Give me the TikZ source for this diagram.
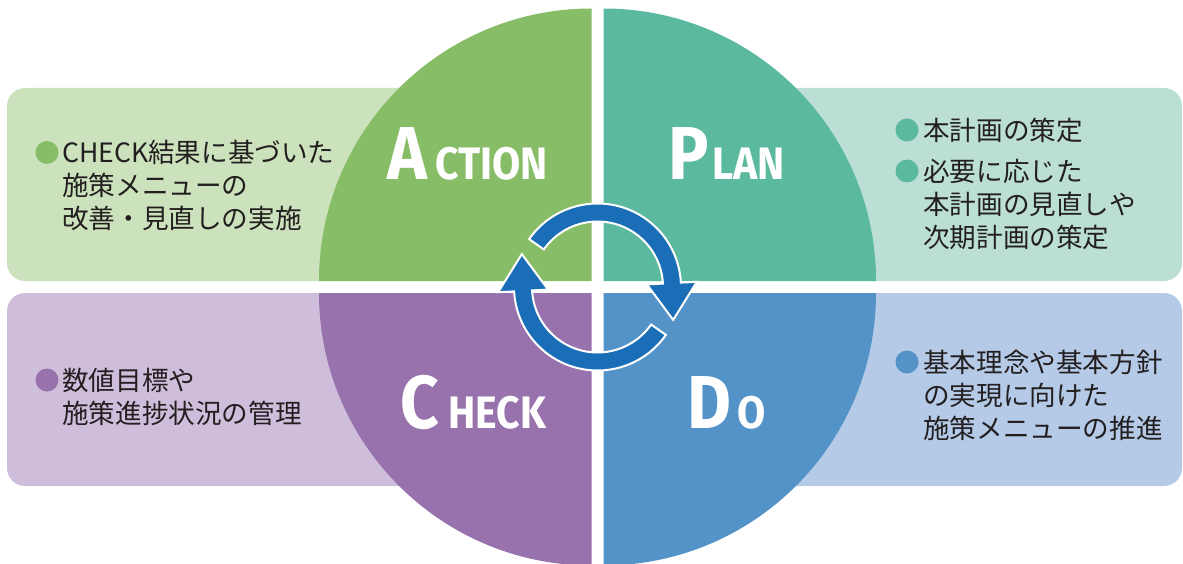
\documentclass[tikz,border=0pt]{standalone}
\usepackage{fontspec}
\newfontfamily\jp{Noto Sans CJK JP}
\newfontfamily\labfont[FakeStretch=0.9]{Fira Sans}
\definecolor{actg}{HTML}{88BD67}
\definecolor{actl}{HTML}{CCE2BC}
\definecolor{plang}{HTML}{5BB9A0}
\definecolor{planl}{HTML}{BCDFD5}
\definecolor{chkg}{HTML}{9872AD}
\definecolor{chkl}{HTML}{CFBEDB}
\definecolor{dog}{HTML}{5493C7}
\definecolor{dol}{HTML}{B5CAE7}
\definecolor{arrowblue}{HTML}{1A6DB7}
\definecolor{txt}{HTML}{231F20}
\tikzset{
  panel/.style={rounded corners=18pt},
  jptext/.style={anchor=base west, inner sep=0pt, text=txt, font=\jp\fontsize{26.6}{27}\selectfont},
  biglab/.style={anchor=base west, inner sep=0pt, text=white, font=\labfont\bfseries\fontsize{75}{75}\selectfont},
  smlab/.style={anchor=base west, inner sep=0pt, text=white, font=\labfont\bfseries\fontsize{45.5}{46}\selectfont},
  cycarrow/.style={fill=arrowblue, draw=white, line width=2pt, line join=miter},
}
\begin{document}
\begin{tikzpicture}[x=1pt,y=-1pt]
\useasboundingbox (0,0) rectangle (1183,564);
% background panels
\fill[actl, panel] (7,88) rectangle (560,281);
\fill[planl, panel] (635,88) rectangle (1182,281);
\fill[chkl, panel] (7,293) rectangle (560,486);
\fill[dol, panel] (635,293) rectangle (1182,486);
% quadrants
\fill[actg] (591.5,281) -- (319,281) arc[start angle=180, end angle=270, radius=272.5] -- cycle;
\fill[plang] (603.5,281) -- (603.5,8.5) arc[start angle=270, end angle=360, radius=272.5] -- cycle;
\fill[chkg] (591.5,293) -- (319,293) arc[start angle=180, end angle=90, radius=272.5] -- cycle;
\fill[dog] (603.5,293) -- (876,293) arc[start angle=0, end angle=90, radius=272.5] -- cycle;
% cycle arrows
\begin{scope}[shift={(597.5,287)}]
\filldraw[cycarrow] (215:83.5) arc[start angle=215, end angle=357, radius=83.5] -- (357:99.5) -- (23.5:82.5) -- (357:49.5) -- (357:65.5) arc[start angle=357, end angle=215, radius=65.5] -- cycle;
\filldraw[cycarrow] (35:83.5) arc[start angle=35, end angle=177, radius=83.5] -- (177:99.5) -- (203.5:82.5) -- (177:49.5) -- (177:65.5) arc[start angle=177, end angle=35, radius=65.5] -- cycle;
\end{scope}
% big labels
\node[biglab] (aBig) at (387,180) {A};
\node[smlab] (aRest) at (435,180) {CTION};
\node[biglab] (pBig) at (668,180) {P};
\node[smlab] (pRest) at (712,180) {LAN};
\node[biglab] (cBig) at (400,428) {C};
\node[smlab] (cRest) at (448,428) {HECK};
\node[biglab] (dBig) at (687,428) {D};
\node[smlab] (dRest) at (737,428) {O};
% bullets
\fill[actg] (47,152.5) circle (11.5);
\fill[plang] (907,130) circle (11.5);
\fill[plang] (907,171) circle (11.5);
\fill[chkg] (47,380) circle (11.5);
\fill[dog] (907,362) circle (11.5);
% texts
\node[jptext] (a1) at (62,162.5) {CHECK結果に基づいた};
\node[jptext] (a2) at (62,195.5) {施策メニューの};
\node[jptext] (a3) at (62,228.5) {改善・見直しの実施};
\node[jptext] (p1) at (923,140.5) {本計画の策定};
\node[jptext] (p2) at (923,181.5) {必要に応じた};
\node[jptext] (p3) at (923,214.5) {本計画の見直しや};
\node[jptext] (p4) at (923,247.5) {次期計画の策定};
\node[jptext] (c1) at (62,390.5) {数値目標や};
\node[jptext] (c2) at (62,423) {施策進捗状況の管理};
\node[jptext] (d1) at (923,372.5) {基本理念や基本方針};
\node[jptext] (d2) at (923,405.5) {の実現に向けた};
\node[jptext] (d3) at (923,438) {施策メニューの推進};
\end{tikzpicture}
\end{document}
